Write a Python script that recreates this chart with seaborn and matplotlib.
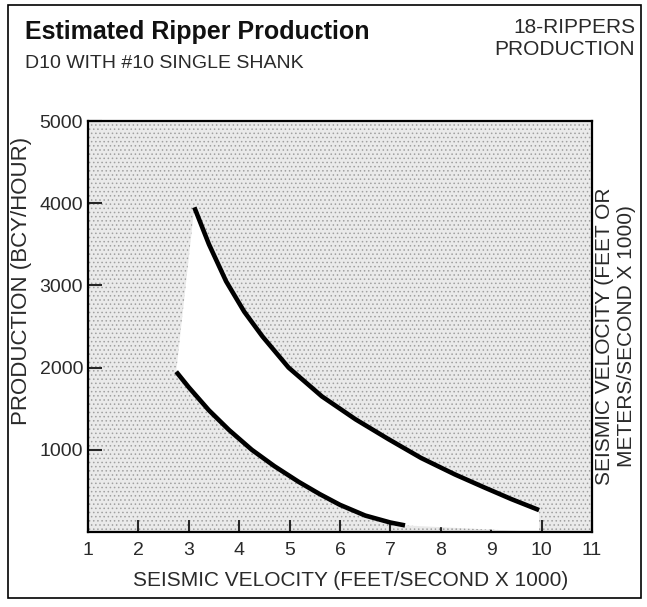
import numpy as np
import pandas as pd
import matplotlib
matplotlib.use("Agg")
import matplotlib.pyplot as plt
import seaborn as sns
from matplotlib.patches import Rectangle

# ------------------------------------------------------------
# DATA
# ------------------------------------------------------------
upper_velocity = [3.11, 3.4, 3.74, 4.1, 4.46, 4.98, 5.64, 6.31, 6.96, 7.61, 8.28, 8.87, 9.4, 9.95]
upper_production = [3950, 3500, 3050, 2680, 2380, 2000, 1650, 1370, 1130, 900, 700, 540, 400, 266]

lower_velocity = [2.75, 3.0, 3.4, 3.8, 4.25, 4.7, 5.18, 5.6, 6.0, 6.5, 7.0, 7.29]
lower_production = [1950, 1760, 1480, 1240, 1000, 800, 610, 460, 330, 200, 115, 80]

x_ticks = list(range(1, 12))
y_ticks = [1000, 2000, 3000, 4000, 5000]

TITLE = "Estimated Ripper Production"
SUBTITLE = "D10 WITH #10 SINGLE SHANK"
CORNER_LINES = ["18-RIPPERS", "PRODUCTION"]
X_LABEL = "SEISMIC VELOCITY (FEET/SECOND X 1000)"
Y_LABEL = "PRODUCTION (BCY/HOUR)"
Y2_LABEL = "SEISMIC VELOCITY (FEET OR\nMETERS/SECOND X 1000)"

upper_df = pd.DataFrame({"velocity": upper_velocity, "production": upper_production})
lower_df = pd.DataFrame({"velocity": lower_velocity, "production": lower_production})

TEXT_COLOR = "#2a2a2a"

# ------------------------------------------------------------
# STYLE
# ------------------------------------------------------------
sns.set_style("ticks")
plt.rcParams["font.family"] = ["Liberation Sans", "DejaVu Sans"]
plt.rcParams["hatch.linewidth"] = 0.6

fig = plt.figure(figsize=(6.47, 6.07), dpi=100)
ax = fig.add_axes([0.136, 0.1236, 0.779, 0.677])

# stippled grey background with a white band between the two curves
ax.set_facecolor("#eaeaea")
ax.add_patch(Rectangle((1, 0), 10, 5000, facecolor="none", edgecolor="#a0a0a0",
                       hatch="....", linewidth=0, zorder=0))
band_x = upper_velocity + [upper_velocity[-1]] + lower_velocity[::-1]
band_y = upper_production + [0] + lower_production[::-1]
ax.fill(band_x, band_y, color="white", zorder=1, linewidth=0)

for df in (upper_df, lower_df):
    sns.lineplot(data=df, x="velocity", y="production", ax=ax, color="black",
                 linewidth=3.3, sort=False, zorder=3,
                 solid_joinstyle="round", solid_capstyle="butt")

ax.set_xlim(1, 11)
ax.set_ylim(0, 5000)
ax.set_xticks(x_ticks)
ax.set_yticks(y_ticks)
ax.set_xticklabels([str(t) for t in x_ticks])
ax.set_yticklabels([str(t) for t in y_ticks])
ax.tick_params(axis="x", direction="in", length=8.5, width=1.5, labelsize=14,
               labelcolor=TEXT_COLOR, pad=7)
ax.tick_params(axis="y", direction="in", length=10, width=1.5, labelsize=14,
               labelcolor=TEXT_COLOR, pad=3.5)
for side in ["left", "bottom", "right", "top"]:
    ax.spines[side].set_visible(True)
    ax.spines[side].set_linewidth(1.6)
    ax.spines[side].set_color("black")

ax.set_xlabel(X_LABEL, fontsize=15, color=TEXT_COLOR, va="center")
ax.xaxis.set_label_coords(0.522, -0.117)
ax.set_ylabel(Y_LABEL, fontsize=16, color=TEXT_COLOR, va="center")
ax.yaxis.set_label_coords(-0.131, 0.61)

# right-hand rotated label
fig.text(0.952, 0.446, Y2_LABEL, rotation=90, ha="center", va="center",
         fontsize=15, color=TEXT_COLOR, linespacing=1.2)

# headings
fig.text(0.0386, 0.9357, TITLE, fontsize=18, fontweight="bold", ha="left",
         va="baseline", color="#111111")
fig.text(0.0386, 0.888, SUBTITLE, fontsize=14, color=TEXT_COLOR, ha="left",
         va="baseline")
fig.text(0.9815, 1 - 33 / 607, CORNER_LINES[0], fontsize=15, color=TEXT_COLOR,
         ha="right", va="baseline")
fig.text(0.9815, 1 - 55 / 607, CORNER_LINES[1], fontsize=15, color=TEXT_COLOR,
         ha="right", va="baseline")

# outer frame
fig.patches.append(Rectangle((0.0124, 0.0148), 0.978, 0.977, transform=fig.transFigure,
                             fill=False, edgecolor="black", linewidth=1.2))

fig.savefig("out.png", dpi=100)
plt.close(fig)
